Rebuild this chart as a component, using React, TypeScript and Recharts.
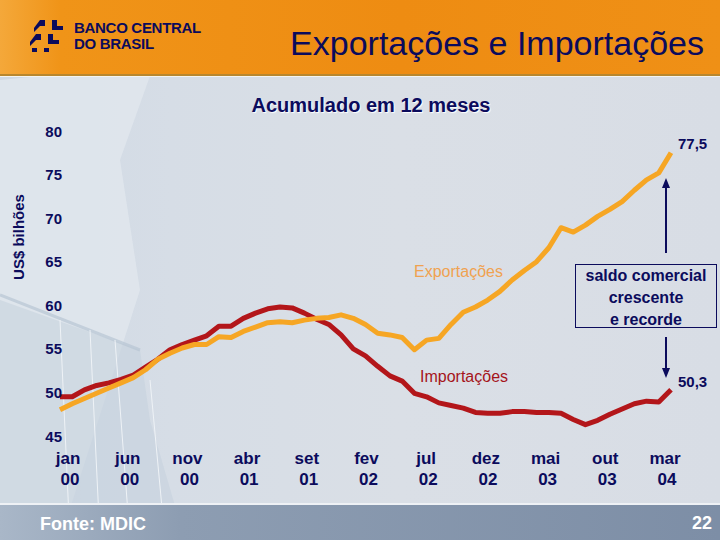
import { LineChart, Line, XAxis, YAxis } from 'recharts';

const months = [
  'jan 00', 'fev 00', 'mar 00', 'abr 00', 'mai 00', 'jun 00', 'jul 00', 'ago 00', 'set 00', 'out 00', 'nov 00', 'dez 00',
  'jan 01', 'fev 01', 'mar 01', 'abr 01', 'mai 01', 'jun 01', 'jul 01', 'ago 01', 'set 01', 'out 01', 'nov 01', 'dez 01',
  'jan 02', 'fev 02', 'mar 02', 'abr 02', 'mai 02', 'jun 02', 'jul 02', 'ago 02', 'set 02', 'out 02', 'nov 02', 'dez 02',
  'jan 03', 'fev 03', 'mar 03', 'abr 03', 'mai 03', 'jun 03', 'jul 03', 'ago 03', 'set 03', 'out 03', 'nov 03', 'dez 03',
  'jan 04', 'fev 04', 'mar 04',
];

// US$ bilhões, acumulado em 12 meses
const exportacoes = [
  48.0, 48.7, 49.3, 49.9, 50.5, 51.1, 51.7, 52.6, 53.8, 54.5, 55.1, 55.5,
  55.5, 56.4, 56.3, 57.0, 57.5, 58.0, 58.1, 58.0, 58.3, 58.5, 58.6, 58.9,
  58.5, 57.8, 56.8, 56.6, 56.3, 54.9, 56.0, 56.2, 57.8, 59.2, 59.8, 60.6,
  61.6, 62.9, 64.0, 65.0, 66.6, 68.9, 68.4, 69.2, 70.2, 71.0, 71.9, 73.2,
  74.4, 75.2, 77.5,
];

const importacoes = [
  49.5, 49.5, 50.3, 50.8, 51.1, 51.5, 52.0, 52.9, 53.8, 54.9, 55.5, 56.0,
  56.5, 57.6, 57.6, 58.5, 59.1, 59.6, 59.8, 59.7, 59.1, 58.4, 57.8, 56.6,
  55.0, 54.2, 53.0, 51.9, 51.3, 49.9, 49.5, 48.8, 48.5, 48.2, 47.7, 47.6,
  47.6, 47.8, 47.8, 47.7, 47.7, 47.6, 46.9, 46.3, 46.8, 47.5, 48.1, 48.7,
  49.0, 48.9, 50.3,
];

const yTicks = [45, 50, 55, 60, 65, 70, 75, 80];

const data = months.map((m, i) => ({ mes: m, exp: exportacoes[i], imp: importacoes[i] }));

const navy = '#0b0b5c';
const font = "Arial, 'Liberation Sans', sans-serif";

const XTick = (props: any) => {
  const { x, payload } = props;
  const idx = months.indexOf(payload.value);
  const shift = 8 - (idx / 5) * 1.4;
  const [m, yr] = String(payload.value).split(' ');
  return (
    <g fontFamily={font} fontWeight="bold" fontSize={17} fill={navy}>
      <text x={x + shift} y={464} textAnchor="middle">{m}</text>
      <text x={x + shift + 2} y={485} textAnchor="middle">{yr}</text>
    </g>
  );
};

const YTick = (props: any) => {
  const { y, payload } = props;
  return (
    <text x={62} y={y + 5.5} textAnchor="end" fontFamily={font} fontWeight="bold" fontSize={15} fill={navy}>
      {payload.value}
    </text>
  );
};

export default function App() {
  return (
    <div
      style={{
        position: 'absolute',
        left: 0,
        top: 0,
        width: 720,
        height: 540,
        overflow: 'hidden',
        fontFamily: font,
        background: 'linear-gradient(90deg, #cfd9e4 0px, #d6dde6 170px, #dadfe6 400px, #d8dde5 720px)',
      }}
    >
      {/* fundo: prédio à esquerda */}
      <svg width={720} height={540} style={{ position: 'absolute', left: 0, top: 0 }}>
        <polygon points="0,80 40,76 150,76 120,160 140,290 60,540 0,540" fill="#e1e7ee" opacity={0.8} />
        <polygon points="0,300 140,350 150,420 185,540 60,540 0,520" fill="#c6d2de" opacity={0.6} />
        <line x1={0} y1={295} x2={140} y2={350} stroke="#b8c6d4" strokeWidth={3} opacity={0.7} />
        <line x1={60} y1={320} x2={70} y2={540} stroke="#eef2f6" strokeWidth={1} />
        <line x1={90} y1={330} x2={100} y2={540} stroke="#eef2f6" strokeWidth={1} />
        <line x1={115} y1={340} x2={130} y2={540} stroke="#eef2f6" strokeWidth={1} />
        <line x1={150} y1={380} x2={165} y2={540} stroke="#eef2f6" strokeWidth={1} />
      </svg>

      {/* cabeçalho */}
      <div
        style={{
          position: 'absolute',
          left: 0,
          top: 0,
          width: 720,
          height: 74,
          background: 'linear-gradient(90deg, #f4a83a 0px, #f09418 60px, #ee8c12 400px, #ef9016 720px)',
        }}
      />
      <div style={{ position: 'absolute', left: 0, top: 74, width: 720, height: 2, background: '#b8872e' }} />
      <div style={{ position: 'absolute', left: 0, top: 76, width: 720, height: 1, background: '#f4f4f0' }} />

      {/* logotipo */}
      <svg width={50} height={40} style={{ position: 'absolute', left: 30, top: 16 }}>
        <g fill={navy}>
          <path d="M10 4 h5 v6 h-5 l-6 6 v-4 z" />
          <path d="M22 4 h5 v6 h6 v4 h-11 z" />
          <path d="M6 18 h5 v6 h-5 l-6 6 v-4 z" />
          <path d="M18 18 h5 v6 h6 v4 h-11 z" />
          <path d="M2 32 h5 v4 h-5 z" />
          <path d="M14 32 h5 v4 h-5 z" />
        </g>
      </svg>
      <div
        style={{
          position: 'absolute',
          left: 74,
          top: 20,
          color: navy,
          fontWeight: 900,
          fontSize: 15,
          lineHeight: '16px',
          letterSpacing: -0.3,
        }}
      >
        BANCO CENTRAL
        <br />
        DO BRASIL
      </div>

      {/* título */}
      <div style={{ position: 'absolute', right: 16, top: 23, color: navy, fontSize: 34, lineHeight: '40px' }}>
        Exportações e Importações
      </div>
      <div
        style={{
          position: 'absolute',
          left: 0,
          width: 742,
          top: 94,
          textAlign: 'center',
          color: navy,
          fontWeight: 'bold',
          fontSize: 20,
          textShadow: '1px 1px 1px #ffffff',
        }}
      >
        Acumulado em 12 meses
      </div>

      {/* rodapé */}
      <div
        style={{
          position: 'absolute',
          left: 0,
          top: 503,
          width: 720,
          height: 37,
          borderTop: '2px solid #eef1f5',
          background: 'linear-gradient(90deg, #a9b7c8 0px, #8d9db2 180px, #7d8ea6 720px)',
        }}
      />
      <div style={{ position: 'absolute', left: 40, top: 514, color: '#ffffff', fontWeight: 'bold', fontSize: 18 }}>
        Fonte: MDIC
      </div>
      <div style={{ position: 'absolute', right: 8, top: 513, color: '#ffffff', fontWeight: 'bold', fontSize: 18 }}>
        22
      </div>

      {/* eixo Y */}
      <div
        style={{
          position: 'absolute',
          left: 18,
          top: 237,
          transform: 'translate(-50%, -50%) rotate(-90deg)',
          whiteSpace: 'nowrap',
          color: navy,
          fontWeight: 'bold',
          fontSize: 15,
        }}
      >
        US$ bilhões
      </div>

      {/* gráfico */}
      <div style={{ position: 'absolute', left: 0, top: 0 }}>
        <LineChart width={720} height={540} data={data} margin={{ top: 131, right: 49, bottom: 74, left: 0 }}>
          <YAxis
            width={60}
            domain={[45, 80]}
            ticks={yTicks}
            axisLine={false}
            tickLine={false}
            tick={<YTick />}
            interval={0}
          />
          <XAxis
            dataKey="mes"
            height={30}
            interval={4}
            axisLine={false}
            tickLine={false}
            tick={<XTick />}
          />
          <Line
            type="linear"
            dataKey="imp"
            stroke="#b3161a"
            strokeWidth={5}
            dot={false}
            strokeLinejoin="round"
            isAnimationActive={false}
          />
          <Line
            type="linear"
            dataKey="exp"
            stroke="#f6a624"
            strokeWidth={5}
            dot={false}
            strokeLinejoin="round"
            isAnimationActive={false}
          />
        </LineChart>
      </div>

      {/* anotações */}
      <div style={{ position: 'absolute', left: 414, top: 263, color: '#f0a250', fontSize: 16 }}>Exportações</div>
      <div style={{ position: 'absolute', left: 420, top: 368, color: '#a5141a', fontSize: 16 }}>Importações</div>
      <div style={{ position: 'absolute', left: 678, top: 135, color: navy, fontWeight: 'bold', fontSize: 15 }}>77,5</div>
      <div style={{ position: 'absolute', left: 678, top: 373, color: navy, fontWeight: 'bold', fontSize: 15 }}>50,3</div>
      <div
        style={{
          position: 'absolute',
          left: 575,
          top: 264,
          width: 142,
          height: 64,
          border: `1px solid ${navy}`,
          boxSizing: 'border-box',
          textAlign: 'center',
          color: navy,
          fontWeight: 'bold',
          fontSize: 16,
          lineHeight: '22px',
        }}
      >
        saldo comercial
        <br />
        crescente
        <br />
        e recorde
      </div>
      <svg width={720} height={540} style={{ position: 'absolute', left: 0, top: 0, pointerEvents: 'none' }}>
        <line x1={666} y1={253} x2={666} y2={186} stroke={navy} strokeWidth={2} />
        <polygon points="666,178 662,188 670,188" fill={navy} />
        <line x1={666} y1={337} x2={666} y2={370} stroke={navy} strokeWidth={2} />
        <polygon points="666,378 662,368 670,368" fill={navy} />
      </svg>
    </div>
  );
}
